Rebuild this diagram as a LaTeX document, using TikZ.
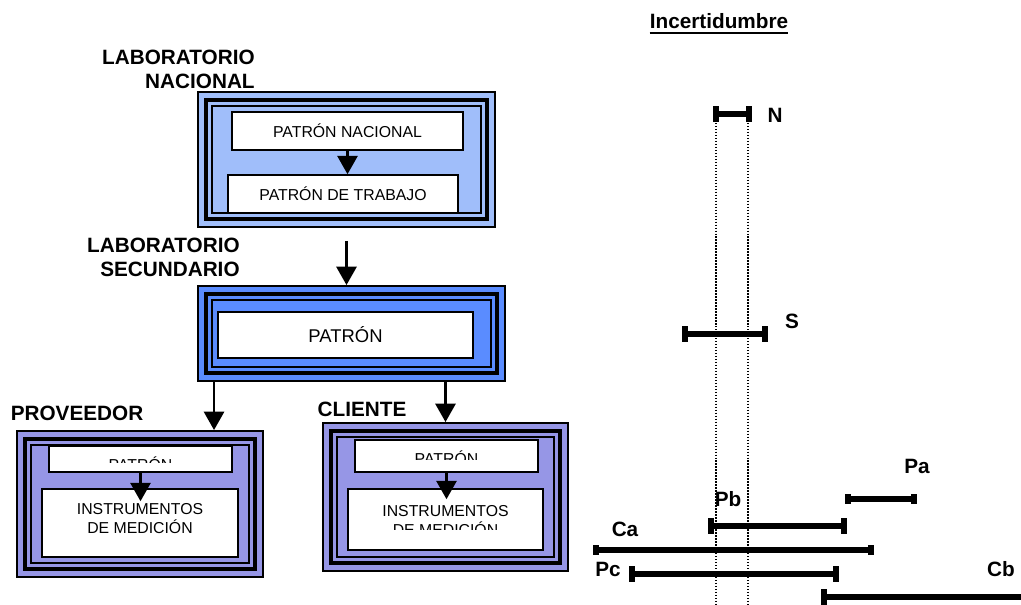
\documentclass[tikz,border=0pt]{standalone}
\usepackage{fontspec}
\setmainfont{Liberation Sans}
\usetikzlibrary{arrows.meta,positioning,fit,calc}
\definecolor{azulclaro}{RGB}{160,190,250}
\definecolor{azulmedio}{RGB}{90,140,255}
\definecolor{lila}{RGB}{150,150,230}

\begin{document}
\begin{tikzpicture}[x=0.02cm, y=-0.02cm,
    marco/.style={draw, line width=1.1pt, inner sep=0pt},
    linea gruesa/.style={line width=2.8pt},
    linea fina/.style={line width=1.4pt},
    caja/.style={draw, fill=white, line width=0.9pt, inner sep=0pt},
    texto/.style={inner sep=0pt, align=center, font=\fontsize{9}{10.8}\selectfont},
    titulo/.style={inner sep=0pt, font=\bfseries\fontsize{11.8}{13.6}\selectfont},
    flecha/.style={-{Triangle[width=11.5pt,length=10.5pt]}, line width=1.4pt},
    barra/.style={line width=3.6pt, {Rectangle[length=3.4pt,width=9.6pt]}-{Rectangle[length=3.4pt,width=9.6pt]}},
    barra chica/.style={line width=3.6pt, {Rectangle[length=3.4pt,width=6.2pt]}-{Rectangle[length=3.4pt,width=6.2pt]}},
    punteado/.style={line width=0.8pt, dash pattern=on 0.8pt off 0.9pt}]
    \useasboundingbox (0,0) rectangle (1021,605);

    % laboratorio nacional
    \node [titulo, align=right, anchor=north east] (labnac) at (255,50) {LABORATORIO\\NACIONAL};
    \node [marco, fill=azulclaro, fit={(198,92) (495,227)}] (lab) {};
    \draw [linea gruesa] ([shift={(9,9)}]lab.north west) rectangle ([shift={(-9,-9)}]lab.south east);
    \draw [linea fina] ([shift={(15,15)}]lab.north west) rectangle ([shift={(-15,-15)}]lab.south east);
    \node [caja, fit={(232,112) (463,150)}] (nac) {};
    \node [texto] (tnac) at (nac.center) {PATRÓN NACIONAL};
    \node [caja, fit={(228,175) (458,213)}] (trab) {};
    \node [texto] (ttrab) at (trab.center) {PATRÓN DE TRABAJO};
    \draw [flecha] (nac.south) -- (nac.south |- trab.north);

    % laboratorio secundario
    \node [titulo, align=right, anchor=north east] (labsec) at (240,238) {LABORATORIO\\SECUNDARIO};
    \node [marco, fill=azulmedio, fit={(198,286) (505,381)}] (sec) {};
    \draw [linea gruesa] ([shift={(9,9)}]sec.north west) rectangle ([shift={(-9,-9)}]sec.south east);
    \draw [linea fina] ([shift={(15,15)}]sec.north west) rectangle ([shift={(-15,-15)}]sec.south east);
    \node [caja, fit={(218,312) (473,358)}] (pat) {};
    \node [texto, font=\fontsize{10.5}{12.6}\selectfont] (tpat) at (pat.center) {PATRÓN};
    \draw [flecha] ([yshift=-0.26cm]lab.south) -- (lab.south |- sec.north);

    % proveedor
    \node [titulo] (provlab) at (77,413) {PROVEEDOR};
    \node [marco, fill=lila, fit={(17,431) (263,577)}] (prov) {};
    \draw [linea gruesa] ([shift={(9,9)}]prov.north west) rectangle ([shift={(-9,-9)}]prov.south east);
    \draw [linea fina] ([shift={(15,15)}]prov.north west) rectangle ([shift={(-15,-15)}]prov.south east);
    \node [caja, fit={(49,446) (232,472)}] (patprov) {};
    \begin{scope}
        \clip (50,447) rectangle (231,462);
        \node [texto, anchor=base] (tpatprov) at (140.5,470) {PATRÓN};
    \end{scope}
    \node [caja, fit={(42,489) (238,557)}] (instprov) {};
    \node [texto, anchor=north] (tinstprov) at (140,503) {INSTRUMENTOS\\DE MEDICIÓN};
    \draw [flecha] (patprov.south) -- ([yshift=-0.26cm]patprov.south |- instprov.north);
    \draw [flecha] ([xshift=0.34cm]sec.south west) -- ([xshift=0.34cm]sec.south west |- prov.north);

    % cliente
    \node [titulo] (clilab) at (362,409) {CLIENTE};
    \node [marco, fill=lila, fit={(323,423) (568,571)}] (cli) {};
    \draw [linea gruesa] ([shift={(9,9)}]cli.north west) rectangle ([shift={(-9,-9)}]cli.south east);
    \draw [linea fina] ([shift={(15,15)}]cli.north west) rectangle ([shift={(-15,-15)}]cli.south east);
    \node [caja, fit={(355,440) (538,472)}] (patcli) {};
    \begin{scope}
        \clip (356,441) rectangle (537,459);
        \node [texto, anchor=base] (tpatcli) at (446.5,464.5) {PATRÓN};
    \end{scope}
    \node [caja, fit={(348,489) (543,550)}] (instcli) {};
    \begin{scope}
        \clip (349,490) rectangle (542,529);
        \node [texto, anchor=north] (tinstcli) at (445.5,505) {INSTRUMENTOS\\DE MEDICIÓN};
    \end{scope}
    \draw [flecha] (patcli.south) -- ([yshift=-0.22cm]patcli.south |- instcli.north);
    \draw [flecha] (cli.north |- sec.south) -- (cli.north);

    % incertidumbre
    \node [titulo, anchor=base] (inc) at (719,29) {Incertidumbre};
    \draw [line width=1.1pt] ([yshift=-2.2pt]inc.base west) -- ([yshift=-2.2pt]inc.base east);
    \draw [punteado] (716,120) -- (716,605);
    \draw [punteado] (748,120) -- (748,605);

    \draw [barra] (713,114) -- (752,114);
    \node [titulo] (N) at (775,115) {N};
    \draw [barra] (682,334) -- (768,334);
    \node [titulo] (S) at (792,321) {S};
    \draw [barra chica] (845,499) -- (917,499);
    \node [titulo] (Pa) at (917,466) {Pa};
    \draw [barra] (708,526) -- (847,526);
    \node [titulo] (Pb) at (728,499) {Pb};
    \draw [barra chica] (593,550) -- (874,550);
    \node [titulo] (Ca) at (625,529) {Ca};
    \draw [barra] (629,574) -- (839,574);
    \node [titulo] (Pc) at (608,569) {Pc};
    \draw [line width=3.6pt, {Rectangle[length=3.4pt,width=9pt]}-] (821,597) -- (1021,597);
    \node [titulo] (Cb) at (1001,569) {Cb};
\end{tikzpicture}
\end{document}
